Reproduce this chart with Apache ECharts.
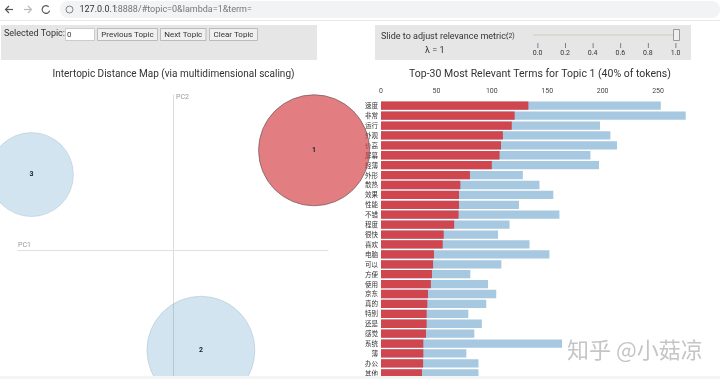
<!DOCTYPE html>
<html>
<head>
<meta charset="utf-8">
<style>
html,body{margin:0;padding:0;background:#fff;}
#main{width:720px;height:379px;}
</style>
<script src="https://cdn.jsdelivr.net/npm/echarts@6/dist/echarts.min.js"></script>
</head>
<body>
<div id="main"></div>
<script>
// bar chart data, top to bottom
var terms = ['速度','非常','运行','外观','价高','屏幕','轻薄','外形','散热','效果','性能','不错','程度','很快','喜欢','电脑','可以','方便','使用','京东','真的','特别','还是','感觉','系统','薄','办公','其他'];
var topicFreq = [133,120.6,118,110,108.3,107,100,80.3,71.6,70.4,70.4,70,66,56.6,55.7,47.8,47,46,45,42.4,41.8,41.2,41.2,40.6,38.2,38.2,38,37];
var totalFreq = [252.5,275,197.6,207,213,189,196.7,128,143,155.5,124.5,161,116,105.6,134,152,108.6,80.6,96.6,104,95,78.8,91,84.2,163.4,77,88,88];
var xTicks = [0,50,100,150,200,250];

// topic circles: PC1, PC2, size px, id
var topicX = [0.273,0.054,-0.274];
var topicY = [0.193,-0.194,0.146];
var topicSize = [111,108,84];
var topicId = ['1','2','3'];

var uiFont = 'Roboto,sans-serif';
var chart = echarts.init(document.getElementById('main'));

function panel(x,y,w,h){
    return {type:'rect',shape:{x:x,y:y,width:w,height:h},style:{fill:'#e6e6e6'},silent:true};
}
function label(x,y,text,size,color,align){
    return {type:'text',x:x,y:y,style:{text:text,fontSize:size,fill:color||'#333',textAlign:align||'left',textVerticalAlign:'middle',fontFamily:uiFont},silent:true};
}
function btn(x,w,text){
    return [
        {type:'rect',shape:{x:x,y:28.5,width:w,height:12},style:{fill:'#f0f0f0',stroke:'#bbb',lineWidth:1}},
        label(x+w/2,34.5,text,8,'#333','center')
    ];
}

var elems = [
    // browser bar
    {type:'rect',shape:{x:60,y:1,width:660,height:17,r:8},style:{fill:'#f1f3f4'}},
    {type:'rect',shape:{x:0,y:20,width:720,height:1},style:{fill:'#e8e8e8'}},
    {type:'polyline',shape:{points:[[6,9.5],[13,9.5]]},style:{stroke:'#555',lineWidth:1.2,fill:null}},
    {type:'polyline',shape:{points:[[9,6],[5.5,9.5],[9,13]]},style:{stroke:'#555',lineWidth:1.2,fill:null}},
    {type:'polyline',shape:{points:[[24,9.5],[31,9.5]]},style:{stroke:'#bbb',lineWidth:1.2,fill:null}},
    {type:'polyline',shape:{points:[[28,6],[31.5,9.5],[28,13]]},style:{stroke:'#bbb',lineWidth:1.2,fill:null}},
    {type:'arc',shape:{cx:46,cy:9.5,r:3.8,startAngle:0.3,endAngle:5.5},style:{stroke:'#555',lineWidth:1.2,fill:null}},
    {type:'circle',shape:{cx:69.5,cy:9.5,r:3.5},style:{stroke:'#666',lineWidth:0.8,fill:null}},
    label(79.5,9.5,'127.0.0.1',9,'#333'),
    label(115.5,9.5,':8888/#topic=0&lambda=1&term=',9,'#777'),
    // control panels
    panel(1,25,316,35),
    panel(375,25,316,35),
    label(4,34,'Selected Topic:',9,'#333'),
    {type:'rect',shape:{x:65.5,y:28.5,width:29,height:12},style:{fill:'#fff',stroke:'#ccc',lineWidth:1}},
    label(67,34.5,'0',8,'#333')
].concat(btn(97.5,60,'Previous Topic'),btn(160.5,45.5,'Next Topic'),btn(209.5,48,'Clear Topic'),[
    label(381,36.5,'Slide to adjust relevance metric:',9,'#333'),
    label(506,36,'(2)',7,'#333'),
    label(425,51,'λ = 1',9,'#333'),
    {type:'rect',shape:{x:533,y:34,width:143,height:2},style:{fill:'#dcd8d2'}},
    {type:'rect',shape:{x:673.5,y:29.5,width:6,height:11},style:{fill:'#eee',stroke:'#999',lineWidth:1}},
    label(173.5,74.5,'Intertopic Distance Map (via multidimensional scaling)',10,'#333','center'),
    label(540,74,'Top-30 Most Relevant Terms for Topic 1 (40% of tokens)',10.5,'#333','center'),
    label(176,97,'PC2',7,'#999'),
    label(18,245,'PC1',7,'#999'),
    // bottom edge of the page
    {type:'rect',z:20,shape:{x:0,y:376,width:720,height:3},style:{fill:'#f4f4f4'}},
    {type:'text',z:20,x:567,y:350,style:{text:'知乎 @小菇凉',fontSize:22,fill:'rgba(140,140,140,0.5)',textVerticalAlign:'middle',fontFamily:'"Noto Sans CJK SC"'}}
]);

// slider ticks
[0,0.2,0.4,0.6,0.8,1].forEach(function(v,i){
    var x = 537.5 + i*27.6;
    elems.push({type:'rect',shape:{x:x,y:43,width:0.8,height:5},style:{fill:'#666'}});
    elems.push(label(x,53,v.toFixed(1),7,'#333','center'));
});

chart.setOption({
    animation:false,
    backgroundColor:'#fff',
    textStyle:{fontFamily:uiFont},
    graphic:{elements:elems},
    grid:[
        {left:18,top:95,width:310,height:310,outerBoundsMode:'none'},
        {left:381,top:100.75,width:332,height:277.5,outerBoundsMode:'none'}
    ],
    xAxis:[{
        gridIndex:0,type:'value',min:-0.3,max:0.3,
        axisLine:{onZero:true,lineStyle:{color:'#e0e0e0',width:1}},
        axisTick:{show:false},axisLabel:{show:false},splitLine:{show:false}
    },{
        gridIndex:1,type:'value',position:'top',min:0,max:299.6,interval:50,
        axisLine:{show:false},axisTick:{show:false},splitLine:{show:false},
        axisLabel:{fontSize:7,color:'#444',margin:6,
            formatter:function(v){return xTicks.indexOf(v)>=0?String(v):'';}}
    }],
    yAxis:[{
        gridIndex:0,type:'value',min:-0.3,max:0.3,
        axisLine:{onZero:true,lineStyle:{color:'#dcdcdc',width:1}},
        axisTick:{show:false},axisLabel:{show:false},splitLine:{show:false}
    },{
        gridIndex:1,type:'category',inverse:true,data:terms,
        axisLine:{show:false},axisTick:{show:false},
        axisLabel:{fontSize:6.5,color:'#333',margin:3,interval:0,fontFamily:'"Noto Sans CJK SC"'}
    }],
    series:[{
        type:'scatter',xAxisIndex:0,yAxisIndex:0,clip:false,z:3,
        data:topicX.map(function(x,i){return {
            value:[x,topicY[i]],symbolSize:topicSize[i],name:topicId[i],
            itemStyle:i==0?{opacity:1,color:'rgba(214,70,75,0.7)',borderColor:'rgba(110,90,90,0.7)',borderWidth:1}
                :{opacity:1,color:'rgba(31,119,180,0.2)',borderColor:'rgba(120,150,170,0.25)',borderWidth:1}
        };}),
        label:{show:true,position:'inside',formatter:'{b}',fontSize:7,fontWeight:'bold',color:'#223'}
    },{
        type:'bar',xAxisIndex:1,yAxisIndex:1,z:4,barWidth:8.3,barGap:'-100%',
        itemStyle:{color:'#a6c8e0'},data:totalFreq
    },{
        type:'bar',xAxisIndex:1,yAxisIndex:1,z:4,barWidth:8.3,barGap:'-100%',
        itemStyle:{color:'#d0464f'},data:topicFreq
    }]
});
</script>
</body>
</html>
